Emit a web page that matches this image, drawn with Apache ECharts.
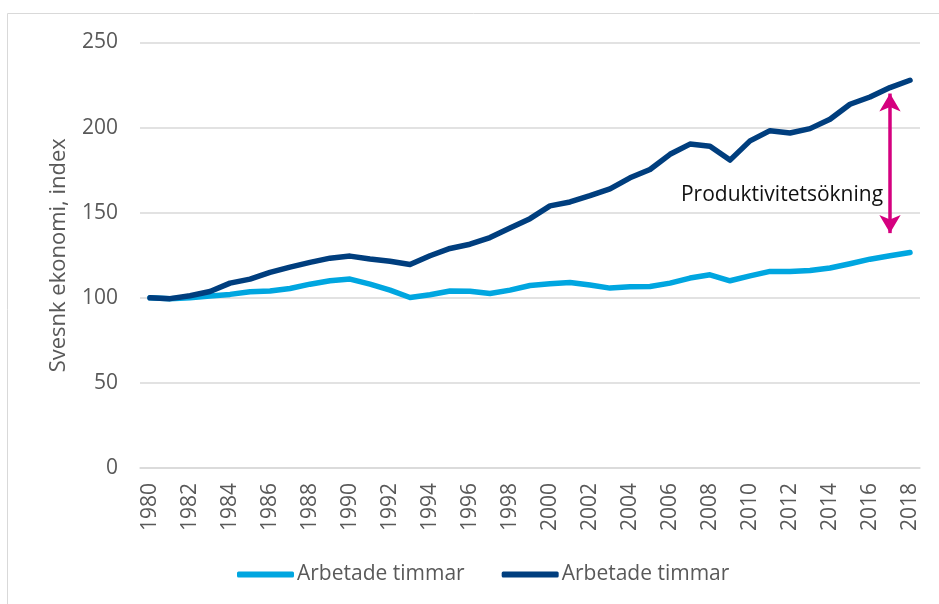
<!DOCTYPE html>
<html>
<head>
<meta charset="utf-8">
<script src="https://cdn.jsdelivr.net/npm/echarts@6/dist/echarts.min.js"></script>
<style>
html,body{margin:0;padding:0;background:#fff;}
#c{width:939px;height:604px;}
</style>
</head>
<body>
<div id="c"></div>
<script>
const years = [];
for (let y = 1980; y <= 2018; y++) years.push(String(y));

const hoursName = 'Arbetade timmar';
const gdpName = 'Arbetade timmar (2)';
const yAxisTitle = 'Svesnk ekonomi, index';
const annotationText = 'Produktivitetsökning';

const hours = [100, 99.5, 100, 101, 102, 103.5, 104, 105.5, 108, 110, 111, 108, 104.5, 100.2, 101.8, 104, 103.9, 102.5, 104.5, 107.2, 108.2, 109, 107.5, 105.7, 106.5, 106.6, 108.6, 111.6, 113.5, 110, 112.9, 115.5, 115.5, 116, 117.5, 120, 122.7, 124.7, 126.6];
const gdp = [100, 99.5, 101.2, 103.7, 108.6, 111, 114.9, 118, 120.8, 123.3, 124.5, 122.8, 121.5, 119.6, 124.7, 129, 131.5, 135.4, 141, 146.5, 154, 156.3, 160, 164, 170.5, 175.4, 184.3, 190.3, 189.1, 180.9, 192.2, 198.2, 196.8, 199.4, 204.9, 213.7, 218, 223.5, 227.8];

const arrowYear = '2017';
const arrowTop = 220;
const arrowBottom = 138;
const labelYear = '2012';
const labelValue = 160.6;

const chart = echarts.init(document.getElementById('c'), null, {renderer: 'canvas'});
const grey = '#595959';
const font = 'Open Sans';
chart.setOption({
  animation: false,
  graphic: [{
    type: 'rect', shape: {x: 7.5, y: 13.5, width: 960, height: 620},
    style: {fill: 'none', stroke: '#d9d9d9', lineWidth: 1}, silent: true, z: -1
  }],
  grid: {left: 140, right: 19, top: 42.5, bottom: 136, containLabel: false},
  legend: {
    top: 559, left: 232,
    itemWidth: 57, itemHeight: 6, itemGap: 37,
    icon: 'roundRect',
    textStyle: {color: grey, fontSize: 21, fontFamily: font, padding: [0,0,0,-2]},
    formatter: n => n.replace(' (2)', ''),
    data: [hoursName, gdpName]
  },
  xAxis: {
    type: 'category', data: years, boundaryGap: true,
    axisLine: {show: true, lineStyle: {color: '#d9d9d9', width: 1.5}},
    axisTick: {show: false},
    axisLabel: {rotate: 90, interval: 1, color: grey, fontSize: 21, fontFamily: font, margin: 15}
  },
  yAxis: {
    type: 'value', min: 0, max: 250, interval: 50,
    name: yAxisTitle, nameLocation: 'middle', nameGap: 70,
    nameTextStyle: {color: grey, fontSize: 22, fontFamily: font},
    axisLine: {show: false}, axisTick: {show: false},
    axisLabel: {color: grey, fontSize: 21, fontFamily: font, margin: 22},
    splitLine: {lineStyle: {color: '#d9d9d9', width: 1.5}}
  },
  series: [
    {
      name: hoursName, type: 'line', data: hours, showSymbol: false, symbol: 'none',
      lineStyle: {color: '#00a6e0', width: 5.5, cap: 'round', join: 'round'},
      itemStyle: {color: '#00a6e0'}, z: 3
    },
    {
      name: gdpName, type: 'line', data: gdp, showSymbol: false, symbol: 'none',
      lineStyle: {color: '#003e7e', width: 5.5, cap: 'round', join: 'round'},
      itemStyle: {color: '#003e7e'}, z: 4,
      markLine: {
        silent: true, symbol: ['arrow', 'arrow'], symbolSize: [16, 18],
        lineStyle: {color: '#d5007f', width: 3.5, type: 'solid'},
        label: {show: false},
        data: [[{coord: [arrowYear, arrowTop]}, {coord: [arrowYear, arrowBottom]}]]
      },
      markPoint: {
        silent: true, symbol: 'circle', symbolSize: 0,
        label: {show: true, formatter: annotationText, color: '#111', fontSize: 21, fontFamily: font, offset: [-8, 0]},
        data: [{coord: [labelYear, labelValue]}]
      }
    }
  ]
});
</script>
</body>
</html>
